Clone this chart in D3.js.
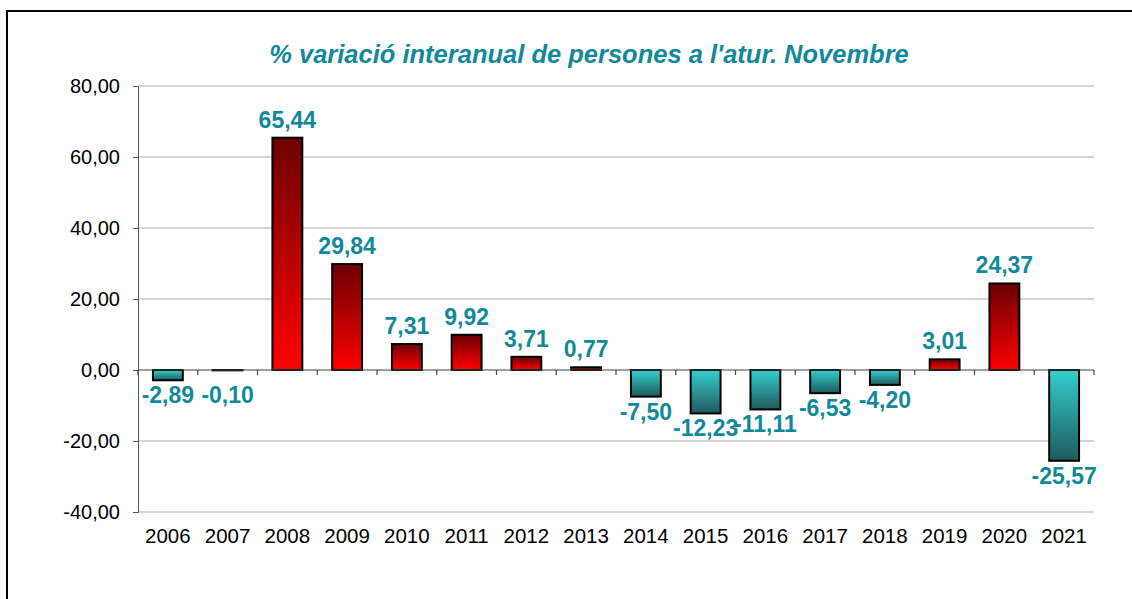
<!DOCTYPE html>
<html>
<head>
<meta charset="utf-8">
<script src="https://cdn.jsdelivr.net/npm/d3@7"></script>
<style>
  body { margin: 0; background: #fff; }
  svg { display: block; font-family: "Liberation Sans", Arial, sans-serif; }
</style>
</head>
<body>
<script>
let anys = ["2006", "2007", "2008", "2009", "2010", "2011", "2012", "2013",
  "2014", "2015", "2016", "2017", "2018", "2019", "2020", "2021"];
let variacio = [-2.89, -0.10, 65.44, 29.84, 7.31, 9.92, 3.71, 0.77,
  -7.50, -12.23, -11.11, -6.53, -4.20, 3.01, 24.37, -25.57];
let ticksY = [80, 60, 40, 20, 0, -20, -40];
let titol = "% variació interanual de persones a l'atur. Novembre";

// format amb coma decimal i guió normal
function fmt(d) {
  return d3.format(".2f")(d).replace(".", ",").replace("\u2212", "-");
}

function graficar() {
  let w = 1132;
  let h = 599;
  let esq = 138, dre = 1094, dalt = 86, baix = 512;

  let svg = d3.select("body").append("svg").attr("width", w).attr("height", h);

  // gradients de les barres
  let defs = svg.append("defs");
  let gPos = defs.append("linearGradient").attr("id", "gpos")
    .attr("x1", 0).attr("y1", 0).attr("x2", 0).attr("y2", 1);
  gPos.append("stop").attr("offset", "0%").attr("stop-color", "#6c0000");
  gPos.append("stop").attr("offset", "100%").attr("stop-color", "#ff0000");
  let gNeg = defs.append("linearGradient").attr("id", "gneg")
    .attr("x1", 0).attr("y1", 0).attr("x2", 0).attr("y2", 1);
  gNeg.append("stop").attr("offset", "0%").attr("stop-color", "#35cfcf");
  gNeg.append("stop").attr("offset", "100%").attr("stop-color", "#1e5a5c");

  // marc exterior
  svg.append("path")
    .attr("d", "M7," + h + "V11H" + w)
    .attr("fill", "none").attr("stroke", "#000").attr("stroke-width", 2);

  let x = d3.scaleBand().domain(anys).range([esq, dre]).padding(0);
  let y = d3.scaleLinear().domain([-40, 80]).range([baix, dalt]);

  // línies de graella
  svg.selectAll(".grid")
    .data(ticksY.filter(d => d != 0))
    .enter()
    .append("line")
    .attr("x1", esq).attr("x2", dre)
    .attr("y1", d => y(d)).attr("y2", d => y(d))
    .attr("stroke", "#c8c8c8").attr("stroke-width", 1.5);

  // eix Y
  let eixY = svg.append("g").attr("transform", "translate(" + esq + ",0)")
    .call(d3.axisLeft(y).tickValues(ticksY).tickSize(5).tickPadding(13)
      .tickFormat(fmt));
  eixY.select(".domain").attr("stroke", "#555");
  eixY.selectAll(".tick line").attr("stroke", "#555");
  eixY.selectAll("text").attr("font-size", 20).attr("fill", "#000")
    .attr("font-family", "Liberation Sans, Arial, sans-serif");

  let bw = x.bandwidth() * 0.5;

  // barres
  svg.selectAll("rect.barra")
    .data(variacio)
    .enter()
    .append("rect")
    .attr("class", "barra")
    .attr("x", (d, i) => x(anys[i]) + (x.bandwidth() - bw) / 2)
    .attr("y", d => y(Math.max(d, 0)))
    .attr("width", bw)
    .attr("height", d => Math.abs(y(d) - y(0)))
    .attr("fill", d => d >= 0 ? "url(#gpos)" : "url(#gneg)")
    .attr("stroke", "#000")
    .attr("stroke-width", 2);

  // eix zero amb marques
  svg.append("line")
    .attr("x1", esq).attr("x2", dre)
    .attr("y1", y(0)).attr("y2", y(0))
    .attr("stroke", "#444").attr("stroke-width", 1.2);
  svg.selectAll(".marca")
    .data(anys.concat(["fi"]))
    .enter()
    .append("line")
    .attr("x1", (d, i) => esq + i * x.step())
    .attr("x2", (d, i) => esq + i * x.step())
    .attr("y1", y(0)).attr("y2", y(0) + 5)
    .attr("stroke", "#444").attr("stroke-width", 1.2);

  // etiquetes de l'eix X
  svg.selectAll(".any")
    .data(anys)
    .enter()
    .append("text")
    .text(d => d)
    .attr("x", d => x(d) + x.bandwidth() / 2)
    .attr("y", 543)
    .attr("text-anchor", "middle")
    .attr("font-size", 20.5)
    .attr("fill", "#000");

  // valors
  svg.selectAll(".valor")
    .data(variacio)
    .enter()
    .append("text")
    .text(fmt)
    .attr("x", (d, i) => x(anys[i]) + x.bandwidth() / 2)
    .attr("y", d => d >= 0 ? y(d) - 10 : Math.max(y(d), y(0) + 10) + 23)
    .attr("text-anchor", "middle")
    .attr("font-size", 23)
    .attr("font-weight", "bold")
    .attr("fill", "#12899a");

  // títol
  svg.append("text")
    .text(titol)
    .attr("x", 589)
    .attr("y", 63)
    .attr("text-anchor", "middle")
    .attr("font-size", 25.5)
    .attr("font-weight", "bold")
    .attr("font-style", "italic")
    .attr("fill", "#12899a");
}

graficar();
</script>
</body>
</html>
